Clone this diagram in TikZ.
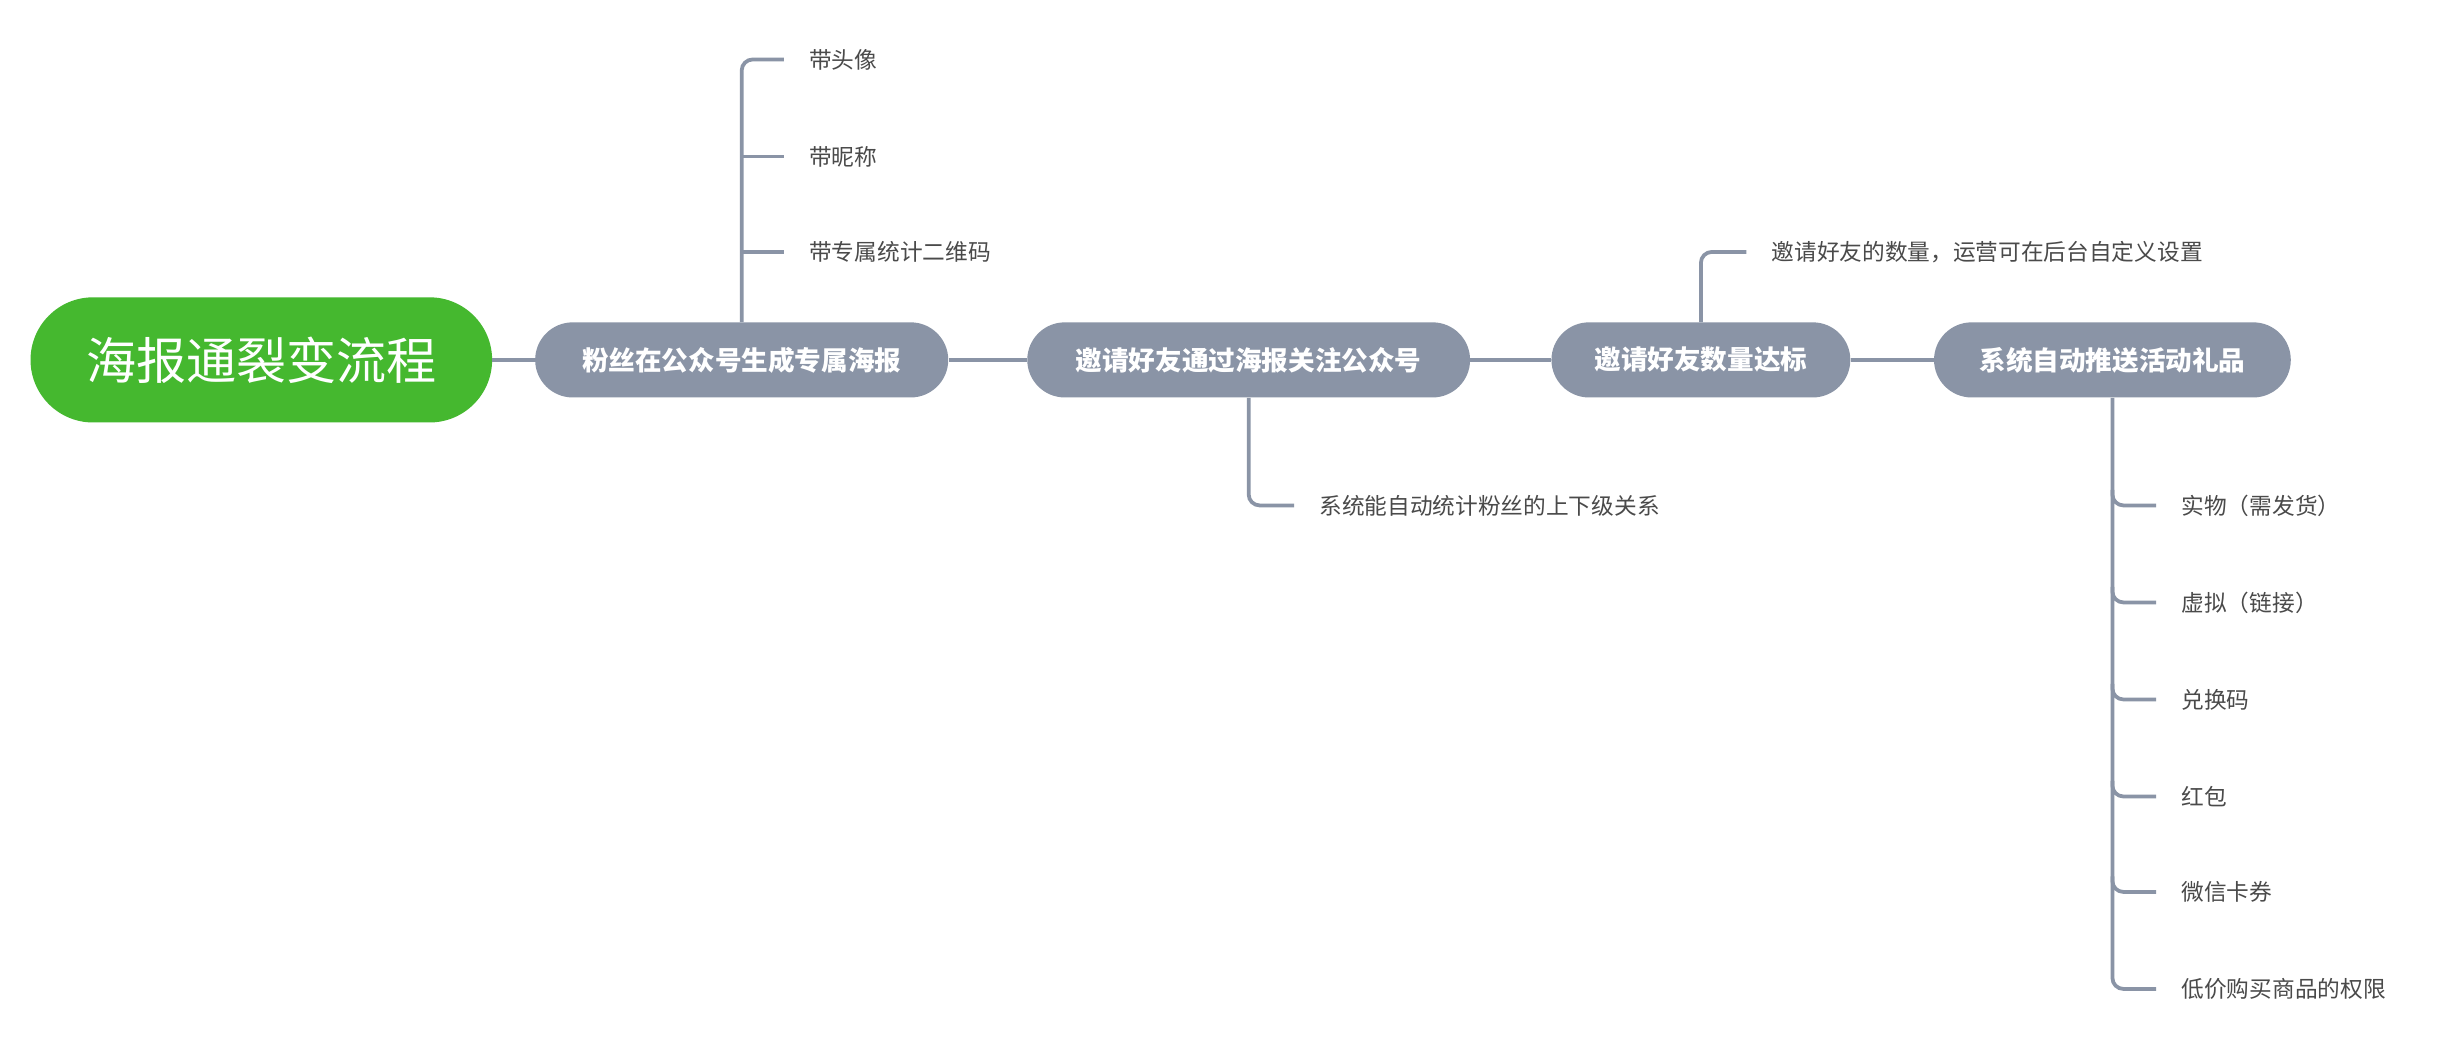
\documentclass[tikz,border=0pt]{standalone}
\usepackage{fontspec}
\setmainfont{Noto Sans CJK SC}
\begin{document}
\begin{tikzpicture}[x=1pt,y=-1pt,
  main/.style={fill=mgray,text=white,rounded corners=24pt,minimum height=48pt,inner xsep=20pt,font=\fontsize{17}{20}\selectfont\bfseries},
  leaf/.style={anchor=west,text=tgray,inner sep=0pt,font=\fontsize{14.5}{17}\selectfont},
  con/.style={draw=mgray,line width=2.4pt},
  br/.style={draw=mgray,line width=2.4pt,rounded corners=7pt}]
\definecolor{mgray}{HTML}{8A94A6}
\definecolor{tgray}{HTML}{4A4A4A}
\definecolor{mgreen}{HTML}{45B82F}
\useasboundingbox[fill=white] (0,0) rectangle (1560,675);
\node[fill=mgreen,text=white,rounded corners=40pt,minimum width=295pt,minimum height=80pt,font=\fontsize{32}{36}\selectfont] (root) at (167,230) {海报通裂变流程};
\node[main,minimum width=264pt] (n1) at (474,230) {粉丝在公众号生成专属海报};
\node[main,minimum width=283pt] (n2) at (798,230) {邀请好友通过海报关注公众号};
\node[main,minimum width=191pt] (n3) at (1087,230) {邀请好友数量达标};
\node[main,minimum width=228pt] (n4) at (1350,230) {系统自动推送活动礼品};
\draw[con] (root) -- (n1); \draw[con] (n1) -- (n2); \draw[con] (n2) -- (n3); \draw[con] (n3) -- (n4);
% n1 children
\node[leaf] (a1) at (517,38) {带头像};
\node[leaf] (a2) at (517,100) {带昵称};
\node[leaf] (a3) at (517,161) {带专属统计二维码};
\coordinate (e1) at (501,38); \coordinate (e2) at (501,100); \coordinate (e3) at (501,161);
\draw[br] (n1.north) -- (474,38) -- (e1);
\draw[br] (474,100) -- (e2);
\draw[br] (474,161) -- (e3);
% n2 child
\node[leaf] (b1) at (843,323) {系统能自动统计粉丝的上下级关系};
\coordinate (f1) at (827,323);
\draw[br] (n2.south) -- (798,323) -- (f1);
% n3 child
\node[leaf] (c1) at (1132,161) {邀请好友的数量，运营可在后台自定义设置};
\coordinate (g1) at (1116,161);
\draw[br] (n3.north) -- (1087,161) -- (g1);
% n4 children
\foreach \y/\t [count=\i] in {323/实物（需发货）,385/虚拟（链接）,447/兑换码,509/红包,570/微信卡券,632/低价购买商品的权限}{
  \node[leaf] (d\i) at (1394,\y) {\t};
  \coordinate (h\i) at (1378,\y);
}
\draw[br] (n4.south) -- (1350,632) -- (h6);
\foreach \i/\y in {1/323,2/385,3/447,4/509,5/570}{ \draw[br] (1350,\y-10) |- (h\i); }
\end{tikzpicture}
\end{document}
